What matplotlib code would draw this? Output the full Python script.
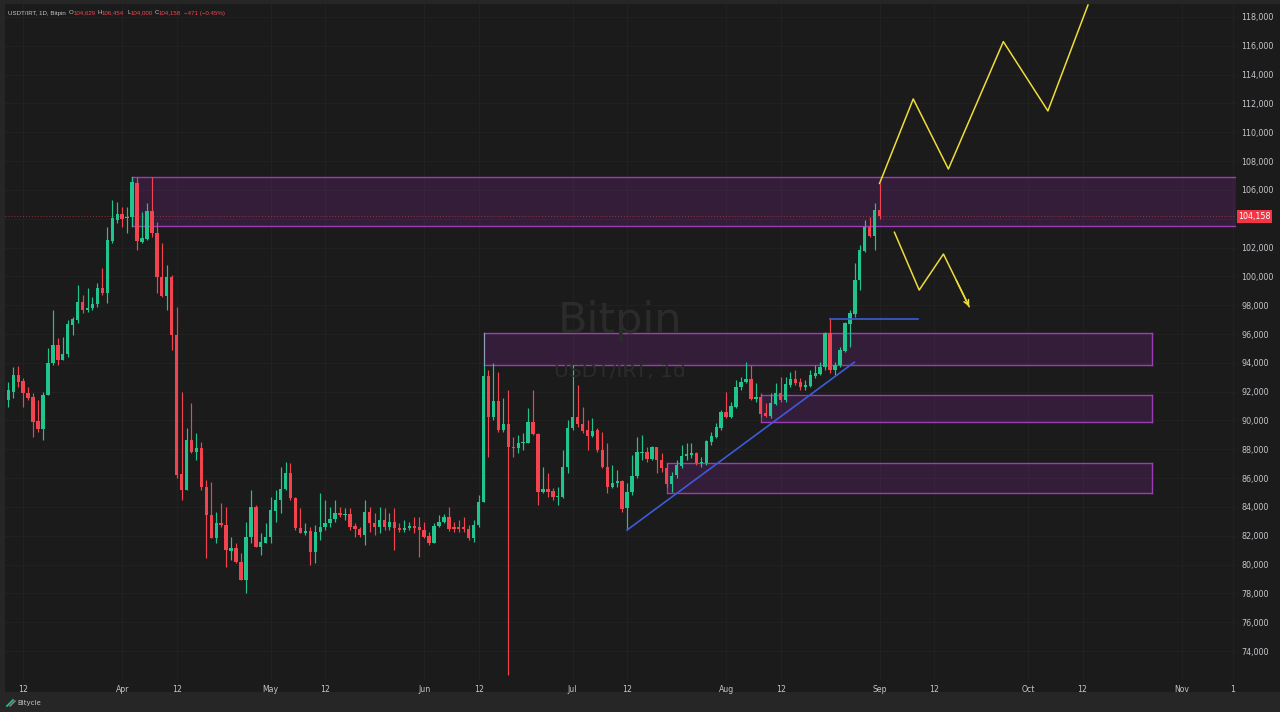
import matplotlib
matplotlib.use("Agg")
import matplotlib.pyplot as plt
from matplotlib.patches import Rectangle
from matplotlib.lines import Line2D
import pandas as pd
import numpy as np

# ---------------- data ----------------
start_date = "2025-03-09"
opens = [91420, 92000, 93160, 92760, 91890, 91610, 89970, 89390, 91770, 93970,
         95240, 94200, 94590, 96630, 96970, 98250, 97670, 97780, 98080, 99220,
         98870, 102460, 103910, 104310, 104030, 104100, 106500, 102410, 102590, 104560,
         103030, 99930, 98640, 99980, 95930, 86260, 85180, 88650, 87840, 88070,
         85410, 83440, 81820, 82860, 82750, 80970, 81130, 80200, 78930, 81890,
         84020, 81240, 81520, 81940, 83740, 84480, 85220, 86330, 84600, 82520,
         82220, 82350, 80900, 82290, 82630, 82860, 83140, 83560, 83440, 83510,
         82680, 82450, 82050, 83670, 82860, 82630, 83100, 82630, 82980, 82560,
         82400, 82560, 82680, 82630, 82400, 81980, 81520, 82680, 82980, 83280,
         82630, 82630, 82590, 82450, 81820, 82750, 84370, 93090, 90260, 91350,
         89340, 89730, 88180, 88070, 88410, 88460, 89920, 89040, 85060, 85220,
         85130, 84670, 84710, 86800, 89460, 90260, 89760, 89340, 88920, 89340,
         87950, 86800, 85410, 85640, 85800, 83900, 85060, 86150, 87720, 87840,
         87300, 88140, 87260, 86730, 85590, 86220, 86840, 87540, 87610, 87720,
         87030, 87030, 88530, 88880, 89460, 90610, 90270, 90960, 92300, 92700,
         92860, 91470, 91650, 90540, 90310, 91140, 91930, 91420, 92460, 92860,
         92670, 92300, 92390, 93090, 93230, 93690, 96100, 93500, 93850, 94850,
         96700, 97390, 99750, 101790, 103450, 102800, 104629]
highs = [92690, 93740, 93780, 92930, 92350, 91890, 91420, 92000, 95010, 97670,
         95700, 95820, 96970, 97210, 99400, 98710, 99170, 98590, 99520, 100560,
         103450, 105300, 105190, 104840, 104840, 106920, 106920, 104490, 105070, 106920,
         103800, 102290, 100790, 100100, 97900, 92000, 89460, 91190, 89110, 88530,
         85870, 85760, 83670, 84250, 84020, 81940, 81480, 80780, 82980, 85180,
         84140, 82170, 82860, 84710, 85180, 86800, 87140, 87030, 84710, 83900,
         82860, 82630, 82750, 84990, 84480, 84020, 84480, 84020, 83900, 83900,
         82860, 82630, 84480, 84020, 83560, 84020, 83900, 83560, 83900, 82860,
         83100, 82980, 83330, 83330, 82980, 82290, 82860, 83440, 83510, 84020,
         82980, 83100, 83330, 82750, 83100, 84830, 93850, 93500, 93970, 93390,
         91540, 92110, 88880, 88990, 89110, 90840, 92110, 89110, 86800, 86330,
         85290, 85410, 87950, 90030, 93850, 92460, 90960, 90030, 90150, 89460,
         89220, 88410, 86910, 86560, 85870, 85640, 87600, 88880, 88990, 88180,
         88230, 88180, 87720, 87030, 86450, 87260, 88300, 88420, 88420, 87840,
         87490, 88650, 89230, 89800, 90730, 92000, 91310, 92810, 93040, 94080,
         93850, 92580, 91890, 91190, 91890, 92580, 93040, 93040, 93390, 93500,
         92930, 92810, 93500, 93850, 94080, 96160, 97090, 94080, 95120, 96860,
         97670, 100910, 102180, 103910, 104140, 105070, 106454]
lows = [90960, 91540, 92350, 90960, 91420, 88880, 89230, 88650, 91770, 93850,
        93850, 94200, 94430, 95930, 96740, 97440, 97550, 97670, 97900, 98710,
        98130, 102290, 103680, 103450, 102990, 103570, 101830, 102290, 102530, 102760,
        98820, 98590, 97670, 94890, 85990, 84480, 85180, 87720, 87260, 85180,
        80430, 81820, 81480, 82630, 79860, 80320, 80090, 78930, 78010, 81480,
        81200, 80670, 81480, 81480, 82980, 83560, 85180, 84480, 82400, 82170,
        82050, 79970, 80090, 81710, 82400, 82630, 82980, 83330, 83100, 82400,
        81940, 81940, 81360, 82290, 82050, 82170, 82400, 82400, 81010, 82290,
        82290, 82400, 82170, 80550, 81820, 81360, 81480, 82630, 82860, 82350,
        82290, 82290, 82290, 81710, 81590, 82630, 84370, 87490, 90030, 89220,
        89220, 72340, 87490, 87720, 87950, 88410, 88990, 84140, 84940, 84710,
        84480, 84140, 84600, 86330, 89340, 89570, 89110, 87950, 88880, 87840,
        86680, 84940, 85290, 85410, 83670, 82400, 84830, 85990, 87260, 87140,
        87260, 86330, 86450, 85410, 85060, 85990, 86680, 87260, 87380, 86910,
        86800, 86910, 88300, 88760, 89340, 90150, 90150, 90840, 92120, 92580,
        91420, 91310, 90270, 90270, 90150, 91080, 91310, 91310, 92350, 92460,
        92120, 92120, 92350, 92930, 93160, 93500, 93270, 93160, 93740, 94780,
        95120, 97210, 99060, 101720, 102760, 101830, 104000]
closes = [92110, 93160, 92700, 91890, 91540, 89920, 89390, 91770, 93970, 95240,
          94200, 94590, 96700, 97020, 98250, 97670, 97830, 98080, 99220, 98820,
          102530, 104080, 104330, 103960, 104140, 106570, 102460, 102640, 104560, 102990,
          99930, 98640, 99980, 95930, 86220, 85180, 88650, 87840, 88070, 85410,
          83440, 81820, 82860, 82750, 81010, 81130, 80200, 78930, 81890, 84020,
          81240, 81590, 81940, 83790, 84480, 85220, 86330, 84600, 82520, 82220,
          82350, 80900, 82290, 82630, 82860, 83140, 83560, 83440, 83510, 82630,
          82450, 82050, 83670, 82860, 82630, 83100, 82630, 82980, 82520, 82400,
          82560, 82680, 82520, 82400, 81940, 81520, 82680, 82980, 83280, 82450,
          82450, 82450, 82450, 81820, 82750, 84370, 93090, 90260, 91350, 89340,
          89730, 88140, 88070, 88460, 88530, 89920, 89040, 85060, 85220, 85060,
          84670, 84760, 86800, 89460, 90260, 89760, 89290, 88920, 89290, 87950,
          86800, 85410, 85680, 85800, 83830, 85060, 86150, 87840, 87840, 87300,
          88140, 87260, 86680, 85590, 86150, 86910, 87540, 87680, 87720, 87030,
          87140, 88600, 88920, 89570, 90610, 90270, 91010, 92350, 92700, 92860,
          91470, 91610, 90450, 90310, 91190, 91930, 91420, 92530, 92860, 92580,
          92300, 92460, 93160, 93270, 93740, 96100, 93500, 93850, 94890, 96740,
          97440, 99750, 101830, 103450, 102800, 104610, 104158]

last_price = 104158
price_ticks = list(range(74000, 118001, 2000))
hidden_price_ticks = [104000]   # covered by the last-price badge in the reference
tick_dates = ["2025-03-12", "2025-04-01", "2025-04-12", "2025-05-01", "2025-05-12",
              "2025-06-01", "2025-06-12", "2025-07-01", "2025-07-12", "2025-08-01",
              "2025-08-12", "2025-09-01", "2025-09-12", "2025-10-01", "2025-10-12",
              "2025-11-01", "2025-11-12"]
tick_labels = ["12", "Apr", "12", "May", "12", "Jun", "12", "Jul", "12", "Aug",
               "12", "Sep", "12", "Oct", "12", "Nov", "1"]

# zones: (start date, end date or None for extend-right, low, high)
zone_starts = ["2025-04-03", "2025-06-13", "2025-08-08", "2025-07-20"]
zone_ends = [None, "2025-10-26", "2025-10-26", "2025-10-26"]
zone_lows = [103500, 93850, 89890, 84970]
zone_highs = [106900, 96060, 91770, 87050]

trend_dates = ["2025-07-12", "2025-08-27"]
trend_vals = [82400, 94040]
hline_dates = ["2025-08-22", "2025-09-08"]
hline_val = 97050

up_path_days = [176.0, 182.8, 189.9, 201.0, 210.0, 218.1]
up_path_vals = [106450, 112310, 107450, 116290, 111480, 118830]
down_path_days = [179.0, 184.0, 188.9, 194.1]
down_path_vals = [103060, 99050, 101550, 97900]

header_parts = [("USDT/IRT, 1D, Bitpin", 8), ("O", 69), ("104,629", 73.5), ("H", 97.5),
                ("106,454", 102), ("L", 127), ("104,000", 130.5), ("C", 155),
                ("104,158", 159), ("\u2212471 (\u22120.45%)", 184)]

# ---------------- styling ----------------
W, H = 1280, 712
BG = "#1b1b1b"
FRAME = "#262626"
GRID = "#212121"
UP = "#22c48e"
DOWN = "#f2444f"
TXT = "#c3c6cc"
ZONE = "#9c27b0"
ZONE_EDGE = "#9d3db5"
BLUE = "#3b5bd9"
YELLOW = "#eedc3a"

t0 = pd.Timestamp(start_date)
def didx(d):
    return (pd.Timestamp(d) - t0).days

n = len(opens)
idx = np.arange(n)
o = np.array(opens, float); h = np.array(highs, float)
l = np.array(lows, float); c = np.array(closes, float)

fig = plt.figure(figsize=(W / 100, H / 100), dpi=100)
fig.patch.set_facecolor(FRAME)
fig.add_artist(Rectangle((5 / W, 1 - 692 / H), (W - 5) / W, (692 - 4) / H,
                         transform=fig.transFigure, facecolor=BG, edgecolor="none", zorder=0))

ax = fig.add_axes([5 / W, 1 - 680 / H, (1236 - 5) / W, (680 - 4) / H])
ax.set_facecolor(BG)
xmin, xmax = -0.67, 248.0
ymin, ymax = 71990, 118900
ax.set_xlim(xmin, xmax)
ax.set_ylim(ymin, ymax)
for s in ax.spines.values():
    s.set_visible(False)

# ticks and grid
ax.set_yticks(price_ticks)
ax.set_yticklabels(["" if v in hidden_price_ticks else f"{v:,}" for v in price_ticks])
ax.yaxis.tick_right()
tick_pos = [didx(d) for d in tick_dates]
tick_pos[-1] = tick_pos[-1] - 0.6
ax.set_xticks(tick_pos)
ax.set_xticklabels(tick_labels)
ax.tick_params(axis="both", length=0, colors=TXT, labelsize=5.8)
ax.tick_params(axis="x", pad=3.5, labelsize=5.6)
ax.tick_params(axis="y", pad=4)
ax.grid(True, color=GRID, lw=0.8, zorder=0)
ax.set_axisbelow(True)

# watermark
fig.text(620 / W, 1 - 333 / H, "Bitpin", fontsize=31, color="#2b2b2b",
         ha="center", va="baseline", zorder=1)
fig.text(620 / W, 1 - 377 / H, "USDT/IRT, 1d", fontsize=14.5, color="#2b2b2b",
         ha="center", va="baseline", zorder=1)

# zones
for zs, ze, zl, zh in zip(zone_starts, zone_ends, zone_lows, zone_highs):
    x0 = didx(zs)
    x1 = xmax if ze is None else didx(ze)
    ax.add_patch(Rectangle((x0, zl), x1 - x0, zh - zl, facecolor=ZONE, alpha=0.2,
                           edgecolor="none", zorder=2))
    ax.plot([x0, x1], [zh, zh], color=ZONE_EDGE, lw=1.0, zorder=3)
    ax.plot([x0, x1], [zl, zl], color=ZONE_EDGE, lw=1.0, zorder=3)
    edge_c = "#8d9cb8" if zs in zone_starts[:2] else ZONE_EDGE
    ax.plot([x0, x0], [zl, zh], color=edge_c, lw=0.9, zorder=3)
    if ze is not None:
        ax.plot([x1, x1], [zl, zh], color=ZONE_EDGE, lw=1.0, zorder=3)

# current price dotted line
ax.axhline(last_price, color=DOWN, lw=0.7, ls=(0, (1, 2)), alpha=0.55, zorder=2)

# candles
colors = [UP if cc >= oo else DOWN for oo, cc in zip(o, c)]
ax.vlines(idx, l, h, colors=colors, lw=0.85, zorder=4)
bottoms = np.minimum(o, c)
heights = np.maximum(np.abs(c - o), 70)
ax.bar(idx, heights, bottom=bottoms, width=0.68, color=colors, linewidth=0, zorder=5)

# trend lines
ax.plot([didx(trend_dates[0]), 170.9], trend_vals, color=BLUE, lw=1.2, zorder=6)
ax.plot([didx(hline_dates[0]), 183.8], [hline_val, hline_val], color=BLUE, lw=1.2, zorder=6)

# projection paths
ax.plot(up_path_days, up_path_vals, color=YELLOW, lw=1.1, zorder=6, clip_on=True)
ax.plot(down_path_days, down_path_vals, color=YELLOW, lw=1.1, zorder=6)
ax.annotate("", xy=(down_path_days[-1], down_path_vals[-1]),
            xytext=(down_path_days[-2] + 0.5 * (down_path_days[-1] - down_path_days[-2]),
                    down_path_vals[-2] + 0.5 * (down_path_vals[-1] - down_path_vals[-2])),
            arrowprops=dict(arrowstyle="->", color=YELLOW, lw=1.1, mutation_scale=9,
                            shrinkA=0, shrinkB=0), zorder=6)

# price label on axis
yp = ax.transData.transform((0, last_price))[1]
yfig = yp / fig.bbox.height
fig.add_artist(Rectangle((1237 / W, yfig - 6.5 / H), 35 / W, 13 / H, transform=fig.transFigure,
                         facecolor="#f23645", edgecolor="none", zorder=10))
fig.text(1254.5 / W, yfig, f"{last_price:,}", color="white", fontsize=5.8,
         ha="center", va="center", zorder=11)

# header
for i, (s, xp) in enumerate(header_parts):
    col = TXT if i in (0, 1, 3, 5, 7) else "#f2444f"
    fig.text(xp / W, 1 - 13 / H, s, color=col, fontsize=4.4, ha="left", va="center",
             family="Liberation Sans", zorder=11)

# footer
fig.add_artist(Line2D([7 / W, 13 / W], [1 - 706 / H, 1 - 700 / H], transform=fig.transFigure,
                      color="#22c48e", lw=1.2))
fig.add_artist(Line2D([10 / W, 15 / W], [1 - 706 / H, 1 - 701 / H], transform=fig.transFigure,
                      color="#8a8f98", lw=1.0))
fig.text(17 / W, 1 - 703 / H, "Bitycle", color=TXT, fontsize=5, ha="left", va="center")

fig.savefig("out.png", dpi=100, facecolor=fig.get_facecolor())
